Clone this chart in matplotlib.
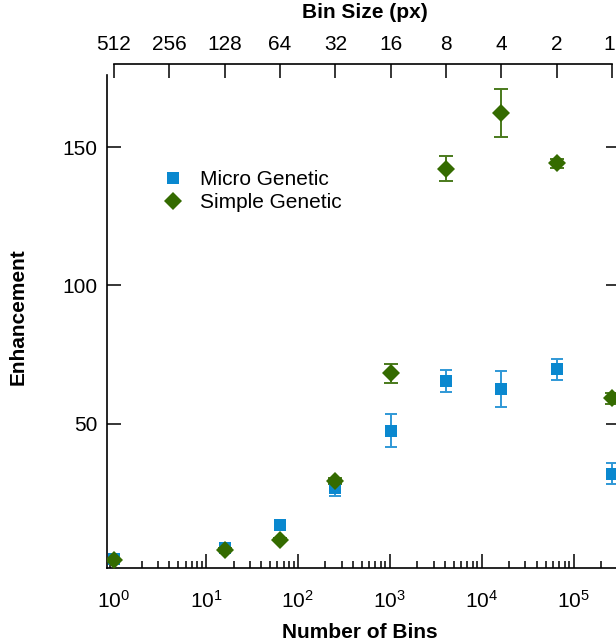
import numpy as np
import matplotlib
matplotlib.use("Agg")
import matplotlib.pyplot as plt
import matplotlib.transforms as mtransforms
from matplotlib.ticker import FixedLocator, FixedFormatter, LogLocator, NullFormatter

plt.rcParams['font.family'] = ['Liberation Sans', 'DejaVu Sans']
plt.rcParams['mathtext.fontset'] = 'custom'
plt.rcParams['mathtext.rm'] = 'Liberation Sans'
plt.rcParams['mathtext.it'] = 'Liberation Sans:italic'
plt.rcParams['mathtext.bf'] = 'Liberation Sans:bold'

# data
n_bins = [1, 16, 64, 256, 1024, 4096, 16384, 65536, 262144]
micro = [1.2, 5.4, 13.5, 26.8, 47.6, 65.5, 62.6, 69.8, 32.0]
micro_err = [0.5, 0.6, 0.8, 2.8, 5.9, 4.1, 6.6, 3.8, 3.8]
simple = [1.0, 4.6, 8.2, 29.4, 68.3, 142.1, 162.4, 144.2, 59.2]
simple_err = [0.4, 0.5, 0.6, 1.0, 3.5, 4.5, 8.7, 1.6, 2.0]

bin_sizes = [512, 256, 128, 64, 32, 16, 8, 4, 2, 1]
bin_ticks = [(512 / b) ** 2 for b in bin_sizes]

blue = '#0a88cf'
blue_bar = '#2f98d6'
green = '#346b00'
green_bar = '#4a7a1c'
fs = 15

W, H = 616, 642
fig = plt.figure(figsize=(W / 100, H / 100), dpi=100)
ax = fig.add_axes([107 / W, 74 / H, (620 - 107) / W, (568 - 75) / H])

ax.errorbar(n_bins, micro, yerr=micro_err, fmt='none', ecolor=blue_bar,
            elinewidth=1.4, capsize=4.4, capthick=1.4, zorder=2)
ax.errorbar(n_bins, simple, yerr=simple_err, fmt='none', ecolor=green_bar,
            elinewidth=1.4, capsize=4.8, capthick=1.4, zorder=2)
ax.plot(n_bins, micro, 's', color=blue, ms=8.5, mew=0, label='Micro Genetic', zorder=3)
ax.plot(n_bins, simple, 'D', color=green, ms=8.8, mew=0, label='Simple Genetic', zorder=4)

ax.set_xscale('log')
ax.set_xlim(0.839, 320600)
ax.set_ylim(-2, 176)
ax.set_yticks([50, 100, 150])
ax.xaxis.set_major_locator(LogLocator(base=10, numticks=10))
ax.xaxis.set_minor_locator(LogLocator(base=10, subs=np.arange(2, 10), numticks=20))
ax.xaxis.set_minor_formatter(NullFormatter())

for s in ['top', 'right']:
    ax.spines[s].set_visible(False)
for s in ['left', 'bottom']:
    ax.spines[s].set_linewidth(1.2)
ax.tick_params(axis='both', which='major', direction='in', length=10, width=1.1,
               labelsize=fs, pad=7)
ax.tick_params(axis='x', which='minor', direction='in', length=5, width=1.1)
ax.tick_params(axis='y', right=True, labelright=False)
ax.tick_params(axis='x', pad=16)

# top axis: bin size
ax_top = ax.twiny()
ax_top.set_xscale('log')
ax_top.set_xlim(ax.get_xlim())
for s in ['left', 'right', 'bottom']:
    ax_top.spines[s].set_visible(False)
ax_top.spines['top'].set_position(('axes', 1 + 11 / 493))
ax_top.spines['top'].set_bounds(bin_ticks[0], bin_ticks[-1])
ax_top.spines['top'].set_linewidth(1.2)
ax_top.xaxis.set_major_locator(FixedLocator(bin_ticks))
ax_top.xaxis.set_major_formatter(FixedFormatter([str(b) for b in bin_sizes]))
ax_top.xaxis.set_minor_locator(FixedLocator([]))
ax_top.tick_params(axis='x', direction='in', length=10, width=1.1, labelsize=fs, pad=7)

# keep the last top label inside the figure edge
fig.canvas.draw()
last = ax_top.xaxis.get_major_ticks()[-1].label2
last.set_transform(last.get_transform() +
                   mtransforms.ScaledTranslation(-3 / 100, 0, fig.dpi_scale_trans))

fig.text(360 / W, 1 - 632 / H, 'Number of Bins', ha='center', va='center',
         fontsize=fs, fontweight='bold')
fig.text(365 / W, 1 - 12 / H, 'Bin Size (px)', ha='center', va='center',
         fontsize=fs, fontweight='bold')
fig.text(18 / W, 1 - 317 / H, 'Enhancement', ha='center', va='center',
         rotation=90, fontsize=fs, fontweight='bold')

ax.legend(loc='upper left', bbox_to_anchor=(163 / W, 1 - 170 / H),
          bbox_transform=fig.transFigure, frameon=False, fontsize=fs,
          handlelength=1.0, handletextpad=0.8, labelspacing=0.2,
          borderpad=0, borderaxespad=0)

fig.savefig('out.png', dpi=100)
